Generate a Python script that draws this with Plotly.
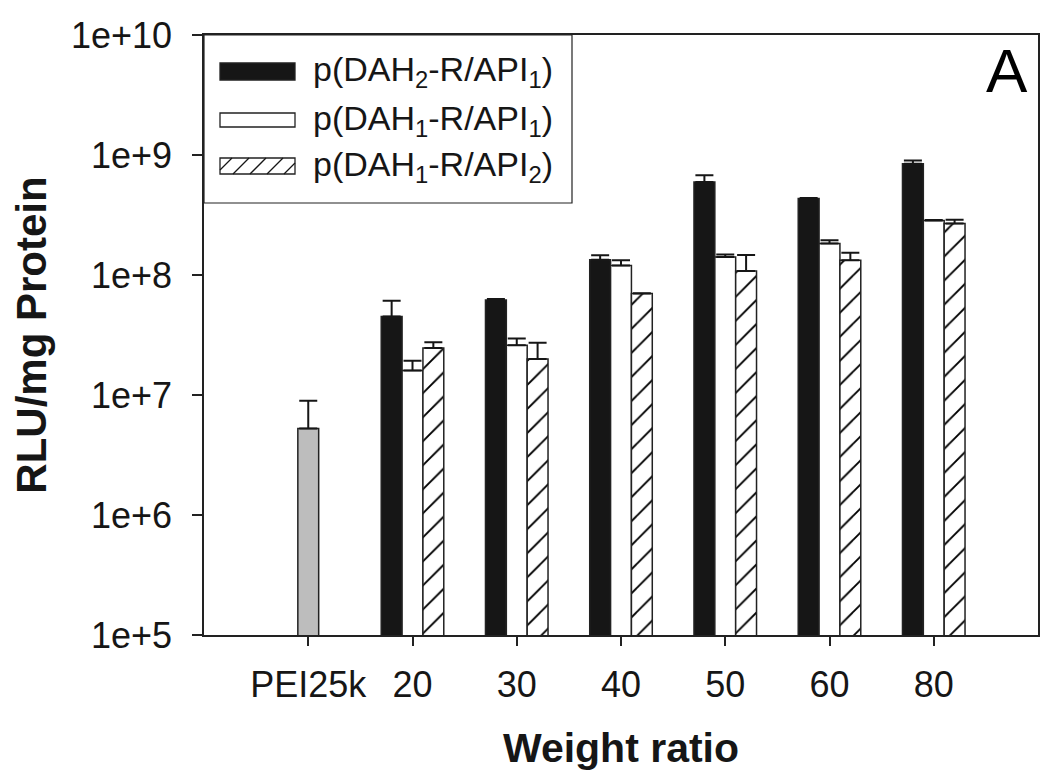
import plotly.graph_objects as go

# ---------------- data ----------------
categories = ["PEI25k", "20", "30", "40", "50", "60", "80"]
ratio_pos = [1, 2, 3, 4, 5, 6]          # category index of the weight ratios
pei_pos = [0]

pei_val = [5.27e6]
pei_err = [3.7e6]

dah2_api1 = [4.5e7, 6.2e7, 1.34e8, 5.95e8, 4.35e8, 8.45e8]
dah2_api1_err = [1.6e7, 1.0e6, 1.2e7, 8.2e7, 4.0e6, 5.5e7]

dah1_api1 = [1.6e7, 2.6e7, 1.2e8, 1.41e8, 1.83e8, 2.85e8]
dah1_api1_err = [3.3e6, 3.5e6, 1.3e7, 7.0e6, 1.2e7, 2.0e6]

dah1_api2 = [2.46e7, 2.0e7, 7.0e7, 1.08e8, 1.33e8, 2.68e8]
dah1_api2_err = [2.9e6, 7.2e6, 6.0e5, 3.9e7, 2.0e7, 2.1e7]

ytick_vals = [1e5, 1e6, 1e7, 1e8, 1e9, 1e10]
ytick_text = ["1e+5", "1e+6", "1e+7", "1e+8", "1e+9", "1e+10"]

legend_names = ["p(DAH<sub>2</sub>-R/API<sub>1</sub>)",
                "p(DAH<sub>1</sub>-R/API<sub>1</sub>)",
                "p(DAH<sub>1</sub>-R/API<sub>2</sub>)"]

# ---------------- style ----------------
OFF = 8                      # default page body margin
W, H = 1050 - 2 * OFF, 779 - 2 * OFF
L, R, T, B = 196, 4, 27, 136
FONT = "Liberation Sans, Arial, Helvetica, sans-serif"
INK = "#161616"
EDGE = "#222222"
BW = 0.2

def err(arr):
    return dict(type="data", symmetric=False, array=arr,
                arrayminus=[0] * len(arr), color=INK, thickness=2, width=9)

fig = go.Figure()

fig.add_trace(go.Bar(x=pei_pos, y=pei_val, width=BW, offset=-0.1,
                     marker=dict(color="#bdbdbd", line=dict(color=EDGE, width=1.5)),
                     error_y=err(pei_err), showlegend=False))
fig.add_trace(go.Bar(x=ratio_pos, y=dah2_api1, width=BW, offset=-0.3,
                     marker=dict(color=INK, line=dict(color=EDGE, width=1.5)),
                     error_y=err(dah2_api1_err), showlegend=False))
fig.add_trace(go.Bar(x=ratio_pos, y=dah1_api1, width=BW, offset=-0.1,
                     marker=dict(color="white", line=dict(color=EDGE, width=1.5)),
                     error_y=err(dah1_api1_err), showlegend=False))
fig.add_trace(go.Bar(x=ratio_pos, y=dah1_api2, width=BW, offset=0.1,
                     marker=dict(color="white", line=dict(color=EDGE, width=1.5),
                                 pattern=dict(shape="/", fgcolor="#000000", bgcolor="white",
                                              fgopacity=1, size=17, solidity=0.11)),
                     error_y=err(dah1_api2_err), showlegend=False))

# ---------------- custom legend (decoration in paper coords) ----------------
PW, PH = W - L - R, H - T - B
def px(x):
    return (x - OFF - L) / PW
def py(y):
    return (H - B - (y - OFF)) / PH

shapes = []
shapes.append(dict(type="rect", xref="paper", yref="paper",
                   x0=px(204), x1=px(572), y0=py(203), y1=py(35),
                   line=dict(color=EDGE, width=1.2), fillcolor="white", layer="above"))
rows = [(63, 80, INK), (113, 127, "white"), (158, 174, "white")]
for (y0, y1, col) in rows:
    shapes.append(dict(type="rect", xref="paper", yref="paper",
                       x0=px(220), x1=px(295), y0=py(y1), y1=py(y0),
                       line=dict(color=EDGE, width=1.3), fillcolor=col, layer="above"))
# hatch lines for third swatch
for xs in [220, 237, 254, 271, 288]:
    xa, xb = xs - 4, xs + 12
    ya, yb = 174, 158
    if xa < 220:
        ya = 174 - (220 - xa)
        xa = 220
    if xb > 295:
        yb = 158 + (xb - 295)
        xb = 295
    shapes.append(dict(type="line", xref="paper", yref="paper",
                       x0=px(xa), x1=px(xb), y0=py(ya), y1=py(yb),
                       line=dict(color=INK, width=1.3), layer="above"))

annotations = []
for name, yc in zip(legend_names, [71, 120, 166]):
    annotations.append(dict(text=name, xref="paper", yref="paper",
                            x=px(311), y=py(yc), xanchor="left", yanchor="middle",
                            showarrow=False, font=dict(family=FONT, size=34, color=INK)))
annotations.append(dict(text="A", xref="paper", yref="paper", x=px(1007), y=py(70),
                        xanchor="center", yanchor="middle", showarrow=False,
                        font=dict(family=FONT, size=62, color="black")))

fig.update_layout(
    width=W, height=H,
    margin=dict(l=L, r=R, t=T, b=B, autoexpand=False),
    paper_bgcolor="white", plot_bgcolor="white",
    barmode="overlay",
    shapes=shapes, annotations=annotations,
    font=dict(family=FONT, color=INK),
    showlegend=False,
)
fig.update_xaxes(range=[-1, 7], tickmode="array", tickvals=list(range(len(categories))),
                 ticktext=categories, ticks="outside", ticklen=9, tickwidth=1.5,
                 tickcolor=EDGE, showline=True, linecolor=EDGE, linewidth=1.5,
                 mirror=True, showgrid=False, zeroline=False,
                 tickfont=dict(family=FONT, size=36, color=INK),
                 ticklabelstandoff=8,
                 title=dict(text="<b>Weight ratio</b>", standoff=30,
                            font=dict(family=FONT, size=41, color=INK)))
fig.update_yaxes(type="log", range=[5, 10], tickmode="array", tickvals=ytick_vals,
                 ticktext=ytick_text, ticks="outside", ticklen=10, tickwidth=1.5,
                 tickcolor=EDGE, showline=True, linecolor=EDGE, linewidth=1.5,
                 mirror=True, showgrid=False, zeroline=False,
                 tickfont=dict(family=FONT, size=36, color=INK),
                 ticklabelstandoff=13,
                 title=dict(text="<b>RLU/mg Protein</b>", standoff=21,
                            font=dict(family=FONT, size=42, color=INK)))

fig.write_html("out.html")
